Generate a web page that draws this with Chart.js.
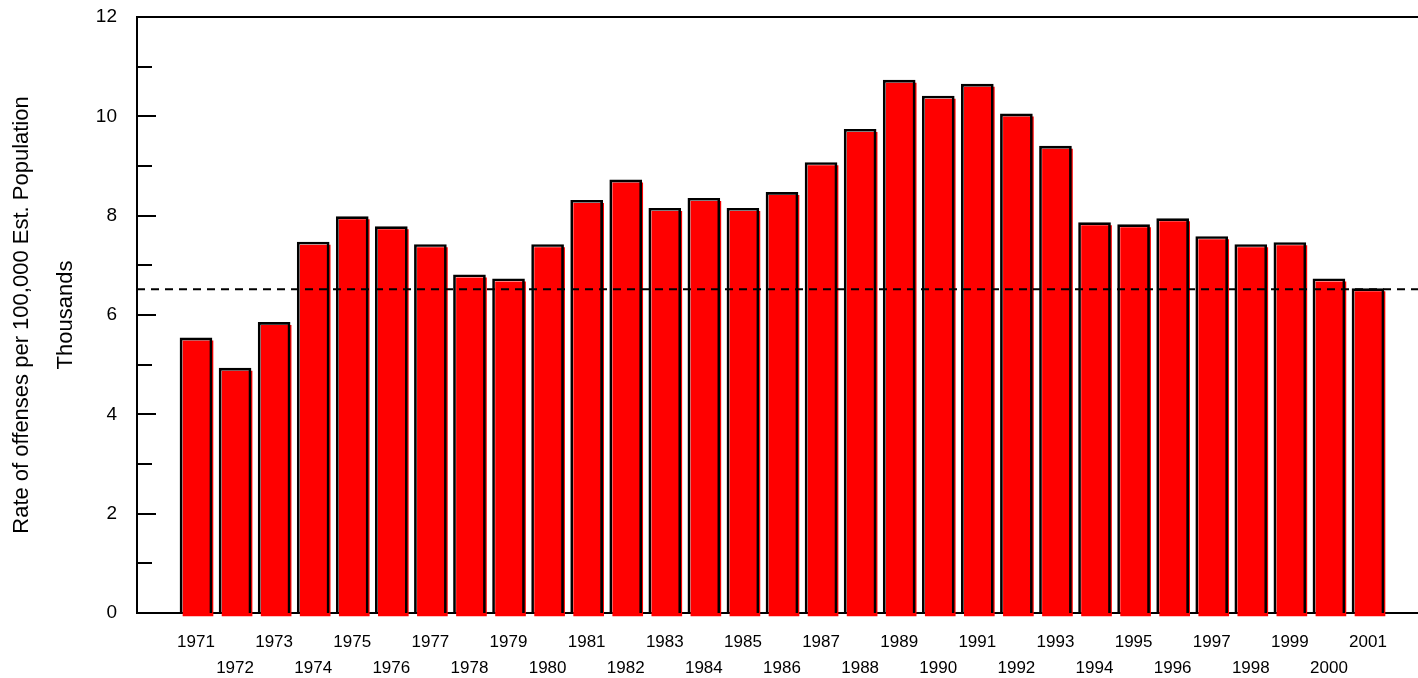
<!DOCTYPE html>
<html>
<head>
	<meta charset="utf-8">
	<title>Rate of offenses per 100,000 Est. Population</title>
	<script src="https://cdn.jsdelivr.net/npm/chart.js@4.4.1/dist/chart.umd.min.js"></script>
	<style>
		html, body {
			margin: 0;
			padding: 0;
			background: #fff;
		}
		#wrap {
			position: relative;
			width: 1418px;
			height: 678px;
		}
	</style>
</head>
<body>
<div id="wrap"><canvas id="myChart"></canvas></div>
<script>
	// rate of offenses, thousands per 100,000 estimated population
	const years = [1971, 1972, 1973, 1974, 1975, 1976, 1977, 1978, 1979, 1980,
		1981, 1982, 1983, 1984, 1985, 1986, 1987, 1988, 1989, 1990,
		1991, 1992, 1993, 1994, 1995, 1996, 1997, 1998, 1999, 2000, 2001]
	const rates = [5.54, 4.93, 5.85, 7.47, 7.98, 7.78, 7.42, 6.81, 6.73, 7.42,
		8.31, 8.72, 8.15, 8.35, 8.15, 8.47, 9.07, 9.74, 10.73, 10.41,
		10.65, 10.05, 9.40, 7.86, 7.82, 7.94, 7.58, 7.42, 7.46, 6.73, 6.53]
	const averageRate = 6.52
	const yTicks = [0, 2, 4, 6, 8, 10, 12]
	const xMin = 1969.49
	const xMax = 2002.28

	const font = "'Liberation Sans', Arial, sans-serif"
	const barData = years.map((y, i) => ({x: y, y: rates[i]}))

	// red fill is drawn a few pixels down/right of its outline
	const shiftPlugin = {
		id: 'shift',
		beforeDatasetDraw(chart, args) {
			const ds = chart.data.datasets[args.index]
			if (ds.shift) {
				chart.ctx.save()
				chart.ctx.translate(ds.shift[0], ds.shift[1])
			}
		},
		afterDatasetDraw(chart, args) {
			if (chart.data.datasets[args.index].shift) chart.ctx.restore()
		}
	}

	// frame top line and the inward ticks on the value axis
	const framePlugin = {
		id: 'frame',
		afterDraw(chart) {
			const {ctx, chartArea} = chart
			const y = chart.scales.y
			ctx.save()
			ctx.strokeStyle = '#000'
			ctx.lineWidth = 2
			ctx.beginPath()
			ctx.moveTo(chartArea.left - 1, chartArea.top)
			ctx.lineTo(chartArea.right, chartArea.top)
			for (let v = 1; v < 12; v++) {
				const py = Math.round(y.getPixelForValue(v))
				ctx.moveTo(chartArea.left, py)
				ctx.lineTo(chartArea.left + (v % 2 === 0 ? 19 : 15), py)
			}
			ctx.stroke()
			ctx.restore()
		}
	}

	let ctx = document.getElementById('myChart').getContext('2d')
	let myChart = new Chart(ctx, {
		type: 'bar',
		data: {
			datasets: [
				{
					type: 'line',
					data: [{x: xMin, y: averageRate}, {x: xMax, y: averageRate}],
					borderColor: '#000',
					borderWidth: 2,
					borderDash: [8, 6],
					pointRadius: 0,
					order: 0
				},
				{
					data: barData,
					backgroundColor: 'rgba(0,0,0,0)',
					borderColor: '#000',
					borderWidth: 2,
					borderSkipped: 'bottom',
					barThickness: 32,
					grouped: false,
					order: 1
				},
				{
					data: barData,
					backgroundColor: '#ff0000',
					borderWidth: 0,
					barThickness: 30,
					grouped: false,
					shift: [2, 3],
					clip: false,
					order: 2
				}
			]
		},
		plugins: [shiftPlugin, framePlugin],
		options: {
			responsive: true,
			maintainAspectRatio: false,
			animation: false,
			events: [],
			layout: {
				padding: {top: 17, right: 0, bottom: 0, left: 0}
			},
			plugins: {
				legend: {display: false},
				tooltip: {enabled: false}
			},
			scales: {
				x: {
					type: 'linear',
					min: xMin,
					max: xMax,
					offset: false,
					z: 1,
					grid: {display: false, drawTicks: false},
					border: {display: true, color: '#000', width: 2},
					afterBuildTicks: scale => {
						scale.ticks = years.map(v => ({value: v}))
					},
					afterFit: scale => {
						scale.height = 65
					},
					ticks: {
						autoSkip: false,
						maxRotation: 0,
						minRotation: 0,
						padding: 17,
						color: '#000',
						font: {family: font, size: 17, lineHeight: 1.5},
						callback: v => v % 2 === 1 ? [String(v), ''] : ['', String(v)]
					}
				},
				y: {
					min: 0,
					max: 12,
					z: 1,
					grid: {display: false, drawTicks: false},
					border: {display: true, color: '#000', width: 2},
					afterBuildTicks: scale => {
						scale.ticks = yTicks.map(v => ({value: v}))
					},
					afterFit: scale => {
						scale.width = 137
						scale.paddingTop = 0
						scale.paddingBottom = 0
					},
					ticks: {
						padding: 20,
						color: '#000',
						font: {family: font, size: 19}
					},
					title: {
						display: true,
						text: ['Rate of offenses per 100,000 Est. Population', 'Thousands'],
						color: '#000',
						padding: 0,
						font: {family: font, size: 22, lineHeight: 2}
					}
				}
			}
		}
	})
</script>
</body>
</html>
